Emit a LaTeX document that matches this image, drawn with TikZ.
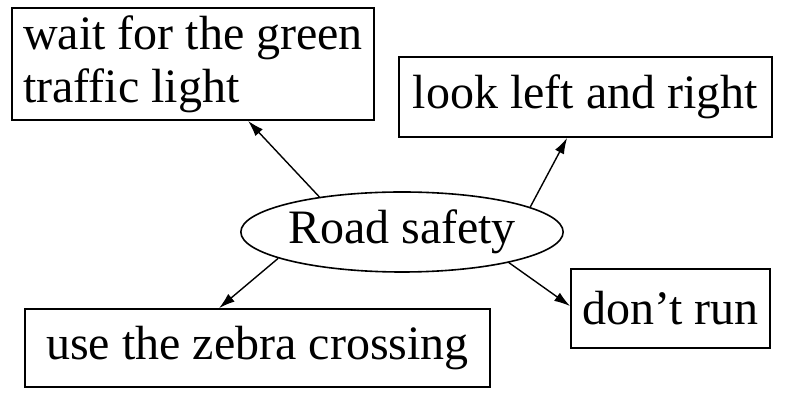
\documentclass[tikz,border=0pt]{standalone}
\usepackage{fontspec}
\setmainfont{Liberation Serif}
\usetikzlibrary{shapes.geometric,arrows.meta}
\begin{document}
\begin{tikzpicture}[x=0.5pt,y=-0.5pt,
  every node/.style={font=\fontsize{24}{26.5}\selectfont},
  box/.style={draw,line width=0.9pt,rectangle,inner sep=0pt},
  hub/.style={draw,line width=0.8pt,ellipse,inner sep=0pt,minimum width=154pt,minimum height=40pt},
  link/.style={line width=0.7pt,-{Latex[length=8pt,width=5pt]}}]
\useasboundingbox (0,0) rectangle (787,394);
\fill[white] (0,0) rectangle (787,394);
\node[box,minimum width=181pt,minimum height=56pt,align=left] (b1) at (193,64) {wait for the green\\traffic light};
\node[box,minimum width=186.5pt,minimum height=40pt] (b2) at (585.5,97) {look left and right};
\node[hub] (hub) at (402,232) {Road safety};
\node[box,minimum width=99.5pt,minimum height=39.5pt] (b3) at (670.5,308.5) {don’t run};
\node[box,minimum width=232.5pt,minimum height=39pt] (b4) at (257.5,348) {use the zebra crossing};
\draw[link] (hub.157.6) -- ([xshift=118.5pt]b1.south west);
\draw[link] (hub.11.9) -- ([xshift=84.5pt]b2.south west);
\draw[link] (hub.192.7) -- ([xshift=97.5pt]b4.north west);
\draw[link] (hub.344.5) -- ([yshift=-19pt]b3.north west);
\end{tikzpicture}
\end{document}
